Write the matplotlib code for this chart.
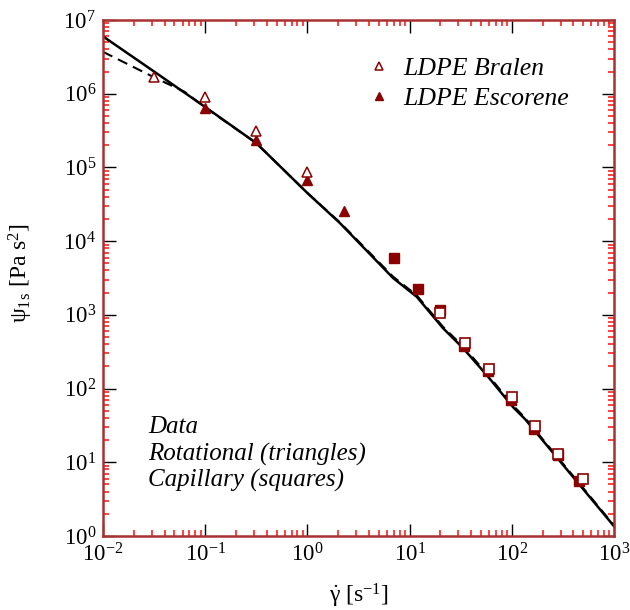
import numpy as np
import matplotlib
matplotlib.use("Agg")
import matplotlib.pyplot as plt
from matplotlib.ticker import LogLocator, NullFormatter

plt.rcParams['font.family'] = ['Liberation Serif', 'DejaVu Serif']
plt.rcParams['mathtext.fontset'] = 'custom'
plt.rcParams['mathtext.rm'] = 'Liberation Serif'
plt.rcParams['mathtext.it'] = 'Liberation Serif:italic'
plt.rcParams['axes.unicode_minus'] = False

# data
bralen_rot_x = [0.0316, 0.1, 0.316, 1.0]
bralen_rot_y = [1.69e6, 9.0e5, 3.1e5, 8.7e4]
escor_rot_x = [0.1, 0.316, 1.0, 2.3]
escor_rot_y = [6.4e5, 2.35e5, 6.7e4, 2.6e4]

bralen_cap_x = [20, 34.6, 59.5, 100, 169, 285, 494]
bralen_cap_y = [1.05e3, 418, 184, 76, 31.3, 12.8, 5.9]
escor_cap_x = [7.0, 12.1, 20, 34, 59, 99, 166, 283, 451]
escor_cap_y = [5.9e3, 2.26e3, 1.15e3, 378, 171, 70, 27.9, 12.5, 5.56]

# model curves
solid_x = [0.01, 0.0316, 0.1, 0.316, 1, 2.08, 6.9, 11.8, 21.2, 33.3, 57, 103, 135, 1000]
solid_y = [6.0e6, 2.0e6, 6.6e5, 2.14e5, 4.5e4, 1.76e4, 3.16e3, 1.75e3, 662, 355, 152, 56, 38.5, 1.36]
dash_x = [0.01, 0.0316, 0.063, 0.1, 0.316, 1, 2.08, 6.9, 11.8, 21.2, 33.3, 57, 103, 135, 1000]
dash_y = [3.7e6, 1.67e6, 1.06e6, 6.5e5, 2.14e5, 4.5e4, 1.8e4, 3.3e3, 1.83e3, 690, 375, 160, 59, 40, 1.4]

dark = '#8b0000'

fig = plt.figure(figsize=(6.3, 6.1), dpi=100)
ax = fig.add_axes([0.1635, 0.1213, 0.811, 0.8459])

ax.plot(solid_x, solid_y, '-', color='black', lw=1.8)
ax.plot(dash_x, dash_y, '--', color='black', lw=1.5, dashes=(5, 3))

ax.plot(escor_cap_x, escor_cap_y, 's', color=dark, ms=7.5, mec=dark)
ax.plot(bralen_cap_x, bralen_cap_y, 's', mfc='white', mec=dark, ms=7.5, mew=1.2)
l2, = ax.plot(escor_rot_x, escor_rot_y, '^', color=dark, ms=7.5, label='LDPE Escorene')
l1, = ax.plot(bralen_rot_x, bralen_rot_y, '^', mfc='white', mec=dark, ms=7.5, mew=1.1,
              label='LDPE Bralen')

ax.set_xscale('log')
ax.set_yscale('log')
ax.set_xlim(1e-2, 1e3)
ax.set_ylim(1e0, 1e7)

ax.xaxis.set_major_locator(LogLocator(base=10, numticks=20))
ax.yaxis.set_major_locator(LogLocator(base=10, numticks=20))
ax.xaxis.set_minor_locator(LogLocator(base=10, subs=np.arange(2, 10), numticks=20))
ax.yaxis.set_minor_locator(LogLocator(base=10, subs=np.arange(2, 10), numticks=20))
ax.xaxis.set_minor_formatter(NullFormatter())
ax.yaxis.set_minor_formatter(NullFormatter())

ax.tick_params(which='major', direction='in', length=9, width=1.0, color='black',
               top=True, right=True, labelsize=16.5, pad=5)
ax.tick_params(which='minor', direction='in', length=4, width=1.2, color='#ff2020',
               top=True, right=True)
for s in ax.spines.values():
    s.set_color('#a83232')
    s.set_linewidth(1.8)

ax.set_xlabel(r'$\dot{\mathrm{\gamma}}$ [s$^{\mathrm{-1}}$]', fontsize=17, labelpad=11)
ax.set_ylabel('ψ$_{\\mathrm{1s}}$ [Pa s$^{\\mathrm{2}}$]', fontsize=17)
ax.yaxis.set_label_coords(-0.133, 0.51)

leg = ax.legend(handles=[l1, l2], loc='upper left', bbox_to_anchor=(0.50, 0.949),
                frameon=False, markerscale=0.85, handlelength=0.8,
                handletextpad=0.55, labelspacing=0.3, borderaxespad=0,
                prop={'style': 'italic', 'size': 18.5})

for txt, yy in [('Data', 0.1996), ('Rotational (triangles)', 0.147), ('Capillary (squares)', 0.095)]:
    ax.text(0.088, yy, txt, transform=ax.transAxes, fontsize=18, style='italic',
            va='baseline', ha='left')

fig.savefig('out.png', dpi=100)
